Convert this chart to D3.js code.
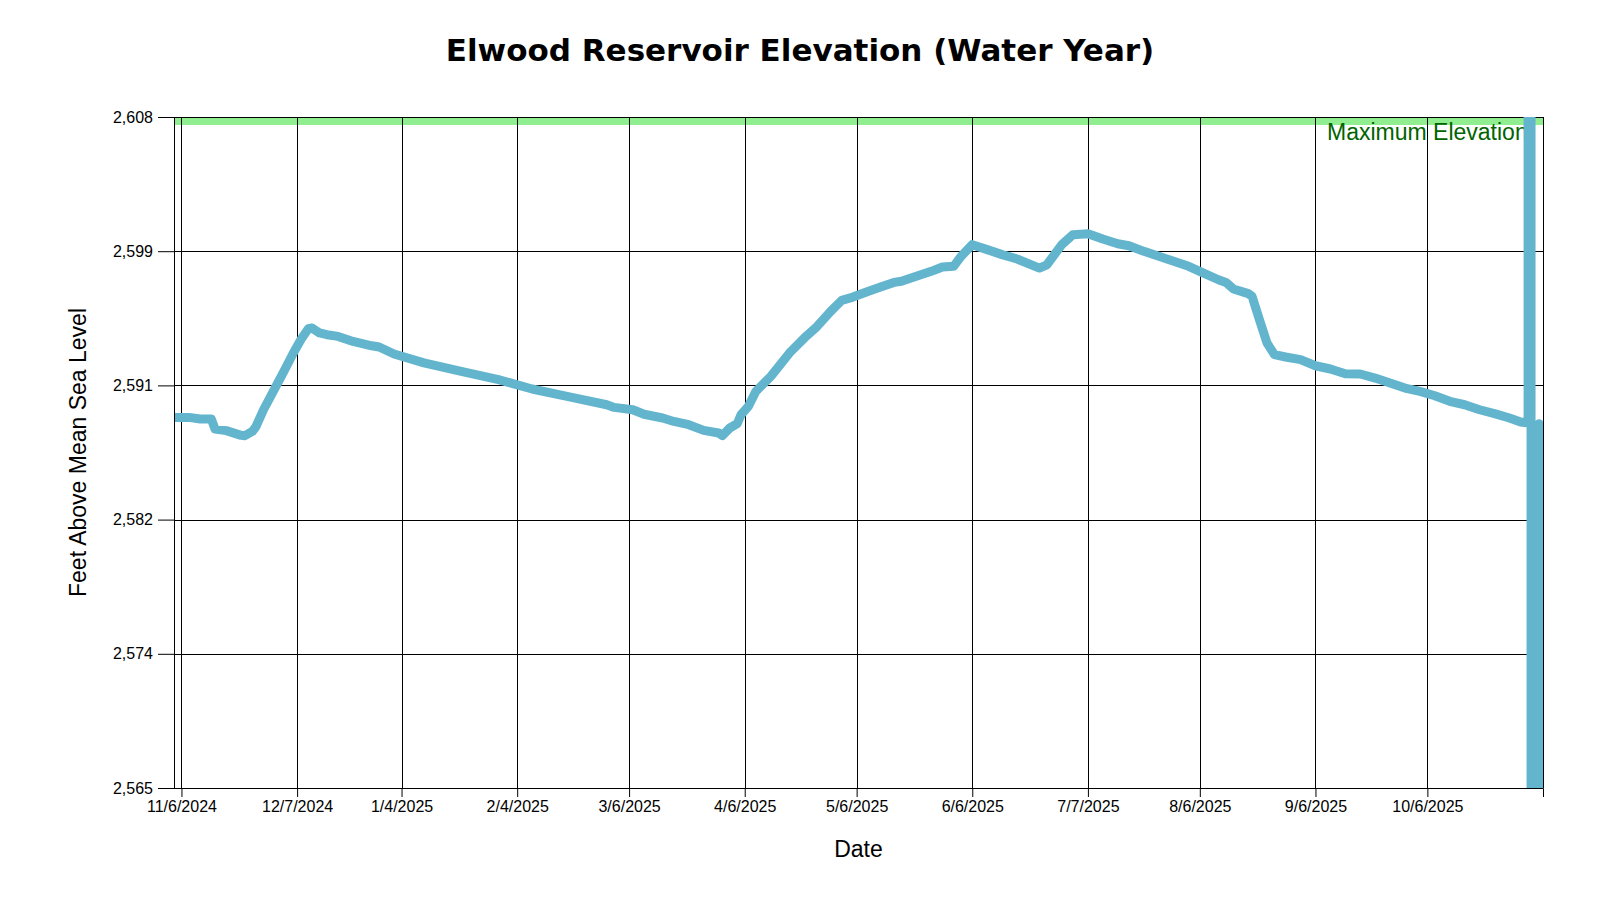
<!DOCTYPE html>
<html>
<head>
<meta charset="utf-8">
<script src="https://cdn.jsdelivr.net/npm/d3@7"></script>
<style>
  body { margin: 0; background: #fff; }
  svg { display: block; }
</style>
</head>
<body>
<div id="chart"></div>
<script>
// data
const dates = ["2024-11-04","2024-11-08","2024-11-11","2024-11-14","2024-11-15","2024-11-18","2024-11-22","2024-11-23",
  "2024-11-25","2024-11-26","2024-11-28","2024-12-01","2024-12-03","2024-12-06","2024-12-08","2024-12-10","2024-12-11",
  "2024-12-13","2024-12-15","2024-12-18","2024-12-22","2024-12-27","2024-12-29","2025-01-02","2025-01-10","2025-01-20",
  "2025-01-30","2025-02-08","2025-02-18","2025-02-28","2025-03-02","2025-03-07","2025-03-10","2025-03-15","2025-03-18",
  "2025-03-22","2025-03-26","2025-03-30","2025-03-31","2025-04-02","2025-04-04","2025-04-05","2025-04-07","2025-04-09",
  "2025-04-13","2025-04-18","2025-04-22","2025-04-25","2025-04-29","2025-05-02","2025-05-05","2025-05-09","2025-05-13",
  "2025-05-16","2025-05-18","2025-05-22","2025-05-26","2025-05-29","2025-06-01","2025-06-03","2025-06-06","2025-06-10",
  "2025-06-14","2025-06-18","2025-06-24","2025-06-26","2025-06-30","2025-07-03","2025-07-07","2025-07-11","2025-07-15",
  "2025-07-18","2025-07-22","2025-07-26","2025-07-30","2025-08-03","2025-08-07","2025-08-11","2025-08-13","2025-08-15",
  "2025-08-19","2025-08-20","2025-08-22","2025-08-24","2025-08-26","2025-08-29","2025-09-02","2025-09-06","2025-09-10",
  "2025-09-14","2025-09-18","2025-09-22","2025-09-26","2025-09-30","2025-10-04","2025-10-08","2025-10-12","2025-10-16",
  "2025-10-20","2025-10-24","2025-10-28","2025-10-31",
  // bad readings at the very end, off the chart top and bottom
  "2025-11-02T00:00Z","2025-11-02T00:00Z","2025-11-02T19:00Z","2025-11-02T19:00Z","2025-11-04T23:00Z","2025-11-04T23:00Z"];

const elevations = [2588.75,2588.75,2588.65,2588.65,2588.0,2587.9,2587.6,2587.58,
  2587.85,2588.17,2589.24,2590.59,2591.49,2592.88,2593.73,2594.43,2594.48,
  2594.16,2594.05,2593.94,2593.62,2593.34,2593.26,2592.81,2592.24,2591.7,
  2591.17,2590.57,2590.06,2589.56,2589.39,2589.24,2588.95,2588.71,2588.49,
  2588.28,2587.92,2587.75,2587.58,2588.07,2588.35,2588.92,2589.46,2590.42,
  2591.38,2592.88,2593.84,2594.48,2595.54,2596.25,2596.46,2596.82,2597.15,
  2597.4,2597.47,2597.79,2598.11,2598.39,2598.43,2599.07,2599.82,2599.5,
  2599.18,2598.9,2598.32,2598.53,2599.82,2600.46,2600.52,2600.18,2599.88,
  2599.75,2599.39,2599.07,2598.75,2598.43,2598.0,2597.57,2597.4,2596.98,
  2596.68,2596.5,2595.0,2593.52,2592.77,2592.62,2592.45,2592.06,2591.85,
  2591.55,2591.53,2591.27,2590.95,2590.63,2590.42,2590.14,2589.78,2589.56,
  2589.24,2588.99,2588.71,2588.45,
  2588.4,2612,2612,2561,2561,2588.35];

const xTicks = ["2024-11-06","2024-12-07","2025-01-04","2025-02-04","2025-03-06","2025-04-06",
  "2025-05-06","2025-06-06","2025-07-07","2025-08-06","2025-09-06","2025-10-06"];
const yTicks = [2565, 2573.6, 2582.2, 2590.8, 2599.4, 2608];
const xDomain = ["2024-11-04", "2025-11-06"];
const yDomain = [2565, 2608];
const maxElevation = 2608;

function renderChart() {

    //dims
    const width = 1600;
    const height = 900;
    const margin = ({ top: 117, right: 57, bottom: 112, left: 174 });

    const parse = d3.isoParse;
    const dataset = dates.map((d, i) => ({date: parse(d), value: elevations[i]}));

    const x = d3.scaleUtc()
        .domain(xDomain.map(parse))
        .range([margin.left, width - margin.right]);

    const y = d3.scaleLinear()
        .domain(yDomain)
        .range([height - margin.bottom, margin.top]);

    const svg = d3.select("#chart")
        .append("svg")
        .attr("width", width)
        .attr("height", height)
        .style("font-family", "'Liberation Sans', Arial, sans-serif");

    svg.append("defs").append("clipPath")
        .attr("id", "plot-clip")
        .append("rect")
        .attr("x", margin.left)
        .attr("y", margin.top)
        .attr("width", width - margin.left - margin.right)
        .attr("height", height - margin.top - margin.bottom);

    // max elevation band
    svg.append("line")
        .attr("clip-path", "url(#plot-clip)")
        .attr("x1", margin.left)
        .attr("x2", width - margin.right)
        .attr("y1", y(maxElevation))
        .attr("y2", y(maxElevation))
        .attr("stroke", "#90ee90")
        .attr("stroke-width", 16);

    //grid
    const grid = svg.append("g")
        .attr("stroke", "#000")
        .attr("stroke-width", 1);

    grid.selectAll(".vgrid")
        .data(xTicks.map(parse))
        .join("line")
        .attr("x1", d => Math.round(x(d)) + 0.5)
        .attr("x2", d => Math.round(x(d)) + 0.5)
        .attr("y1", margin.top)
        .attr("y2", height - margin.bottom);

    grid.selectAll(".hgrid")
        .data(yTicks)
        .join("line")
        .attr("x1", margin.left)
        .attr("x2", width - margin.right)
        .attr("y1", d => Math.round(y(d)) + 0.5)
        .attr("y2", d => Math.round(y(d)) + 0.5);

    grid.append("line")
        .attr("x1", Math.round(x.range()[1]) + 0.5)
        .attr("x2", Math.round(x.range()[1]) + 0.5)
        .attr("y1", margin.top)
        .attr("y2", height - margin.bottom);

    svg.append("text")
        .attr("x", 1327)
        .attr("y", y(maxElevation) + 23)
        .attr("fill", "#006400")
        .style("font-size", "23px")
        .text("Maximum Elevation");

    // elevation line
    const line = d3.line()
        .x(d => x(d.date))
        .y(d => y(d.value));

    svg.append("path")
        .datum(dataset)
        .attr("clip-path", "url(#plot-clip)")
        .attr("fill", "none")
        .attr("stroke", "#63b5ce")
        .attr("stroke-width", 9)
        .attr("stroke-linejoin", "round")
        .attr("stroke-linecap", "round")
        .attr("d", line);

    //axes
    const xAxis = d3.axisBottom(x)
        .tickValues(xTicks.map(parse))
        .tickFormat(d3.utcFormat("%-m/%-d/%Y"))
        .tickSize(9)
        .tickPadding(4);

    svg.append("g")
        .attr("transform", `translate(0,${height - margin.bottom})`)
        .call(xAxis)
        .call(g => g.select(".domain")
            .attr("d", `M${x.range()[0]},0.5H${x.range()[1] + 0.5}V9`))
        .call(g => g.selectAll("text").style("font-size", "16px").attr("fill", "#000"))
        .call(g => g.selectAll("line, path").attr("stroke", "#000"));

    svg.append("g")
        .attr("transform", `translate(${margin.left},0)`)
        .call(d3.axisLeft(y).tickValues(yTicks).tickFormat(d3.format(",.0f")).tickSize(16).tickSizeOuter(0).tickPadding(5))
        .call(g => g.selectAll("text").style("font-size", "16px").attr("fill", "#000"))
        .call(g => g.selectAll("line, path").attr("stroke", "#000"));

    //labels
    svg.append("text")
        .attr("x", width / 2)
        .attr("y", 61)
        .attr("text-anchor", "middle")
        .style("font-family", "'DejaVu Sans', sans-serif")
        .style("font-weight", "bold")
        .style("font-size", "31px")
        .text("Elwood Reservoir Elevation (Water Year)");

    svg.append("text")
        .attr("x", (x.range()[0] + x.range()[1]) / 2)
        .attr("y", 857)
        .attr("text-anchor", "middle")
        .style("font-size", "23px")
        .text("Date");

    svg.append("text")
        .attr("transform", `translate(86,${(y.range()[0] + y.range()[1]) / 2}) rotate(-90)`)
        .attr("text-anchor", "middle")
        .style("font-size", "23px")
        .text("Feet Above Mean Sea Level");
}

renderChart();
</script>
</body>
</html>
